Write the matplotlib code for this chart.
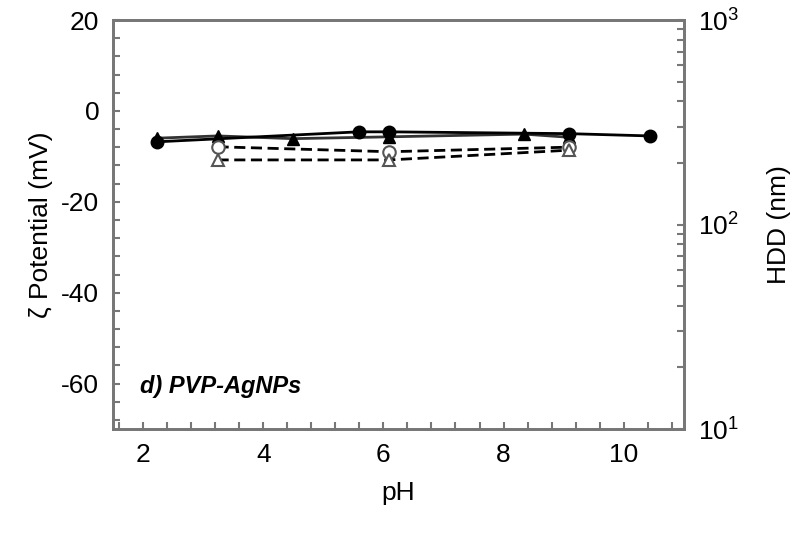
import matplotlib
matplotlib.use("Agg")
import matplotlib.pyplot as plt
from matplotlib.ticker import MultipleLocator, LogLocator, NullFormatter

plt.rcParams.update({"font.family": ["Liberation Sans", "DejaVu Sans"], "font.size": 19,
                     "axes.unicode_minus": False})

# zeta potential (mV), filled symbols, solid lines
ph_zeta_circ = [2.23, 5.59, 6.10, 9.09, 10.43]
zeta_circ = [-6.8, -4.6, -4.6, -5.0, -5.5]
ph_zeta_tri = [2.23, 3.24, 4.49, 6.10, 8.34, 9.09]
zeta_tri = [-6.0, -5.5, -6.1, -5.7, -5.1, -5.8]

# hydrodynamic diameter (nm), open symbols, dashed lines
ph_hdd = [3.24, 6.10, 9.09]
hdd_circ = [240, 227, 239]
hdd_tri = [207, 207, 231]

GREY = "#777777"

fig = plt.figure(figsize=(7.96, 5.36), dpi=100)
ax = fig.add_axes([0.142, 0.1996, 0.717, 0.763])
ax2 = ax.twinx()

ax.plot(ph_zeta_tri, zeta_tri, "-", color="#333333", lw=2, marker="^", ms=9,
        mfc="black", mec="black", zorder=3)
ax.plot(ph_zeta_circ, zeta_circ, "-", color="black", lw=2, marker="o", ms=9,
        mfc="black", mec="black", zorder=4)

ax2.plot(ph_hdd, hdd_circ, "--", color="black", lw=2, marker="o", ms=9,
         mfc="white", mec="#555555", mew=1.5, dashes=(4, 2))
ax2.plot(ph_hdd, hdd_tri, "--", color="black", lw=2, marker="^", ms=9,
         mfc="white", mec="#555555", mew=1.5, dashes=(4, 2))

ax.set_xlim(1.5, 11)
ax.set_ylim(-70, 20)
ax.set_xticks([2, 4, 6, 8, 10])
ax.set_yticks([20, 0, -20, -40, -60])
ax.xaxis.set_minor_locator(MultipleLocator(0.4))
ax.yaxis.set_minor_locator(MultipleLocator(4))

ax2.set_yscale("log")
ax2.set_ylim(10, 1000)
ax2.yaxis.set_minor_locator(LogLocator(base=10, subs=range(2, 10)))
ax2.yaxis.set_minor_formatter(NullFormatter())

for a in (ax, ax2):
    for s in a.spines.values():
        s.set_color(GREY)
        s.set_linewidth(2)
    a.tick_params(which="both", direction="in", color=GREY, width=1.5, pad=10)
    a.tick_params(which="major", length=5)
    a.tick_params(which="minor", length=5)
ax.tick_params(axis="y", which="both", right=False)
ax.tick_params(axis="x", which="both", top=False)

ax.set_xlabel("pH", labelpad=10)
ax.set_ylabel("ζ Potential (mV)", labelpad=6)
ax2.set_ylabel("HDD (nm)", labelpad=20)

ax.text(0.047, 0.105, "d) PVP-AgNPs", transform=ax.transAxes, fontsize=17,
        fontweight="bold", fontstyle="italic", ha="left", va="center")

fig.savefig("out.png", dpi=100)
